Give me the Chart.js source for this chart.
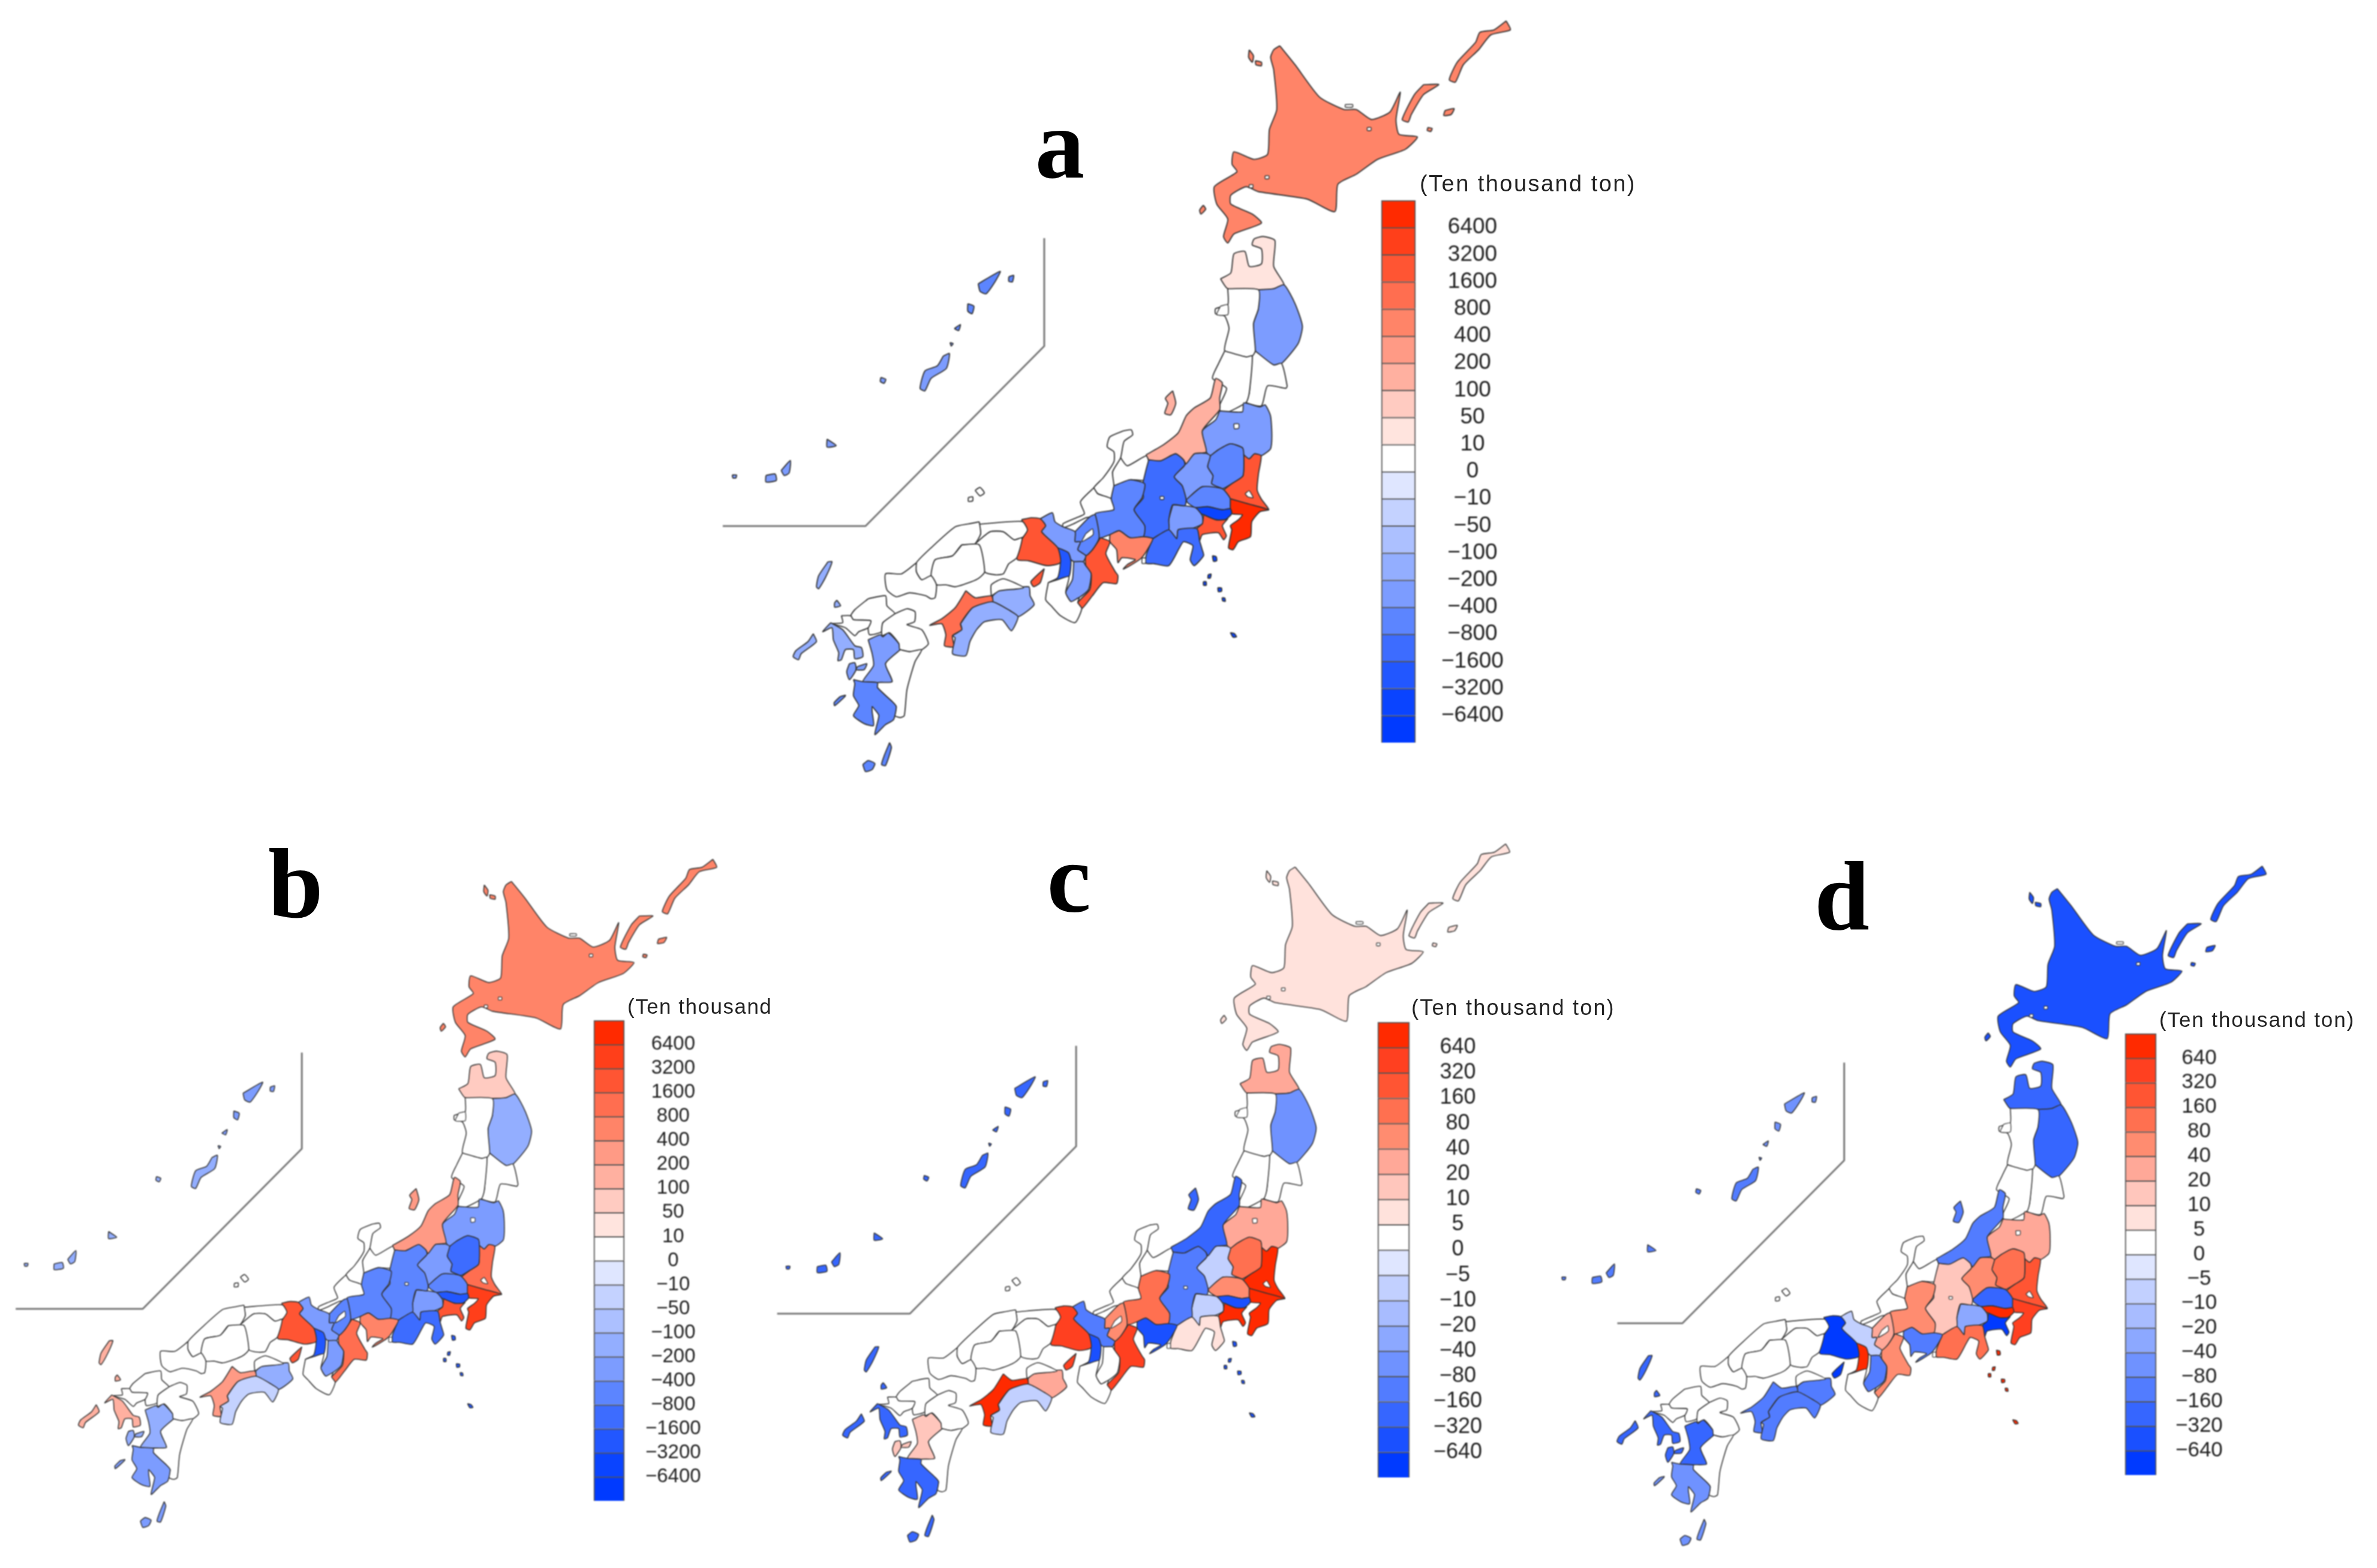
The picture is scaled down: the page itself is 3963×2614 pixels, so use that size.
<!DOCTYPE html>
<html><head><meta charset="utf-8">
<script src="https://cdn.jsdelivr.net/npm/chart.js@4"></script>
<style>
html,body{margin:0;padding:0;background:#fff;width:3963px;height:2614px;overflow:hidden}
canvas{position:absolute;filter:blur(0.8px)}
.letter{position:absolute;font-family:"Liberation Serif",serif;font-weight:bold;color:#000;line-height:1;transform:translate(-50%,-50%)}
.unit{position:absolute;font-family:"Liberation Sans",sans-serif;color:#222;white-space:nowrap;line-height:1;transform:translateY(-50%)}
</style></head><body>
<canvas id="maps" width="3963" height="2614" style="left:0;top:0"></canvas>
<script>
// ---------- DATA ----------
const prefectures=["Hokkaido","Aomori","Iwate","Miyagi","Akita","Yamagata","Fukushima","Ibaraki","Tochigi","Gunma","Saitama","Chiba","Tokyo","Kanagawa","Niigata","Toyama","Ishikawa","Fukui","Yamanashi","Nagano","Gifu","Shizuoka","Aichi","Mie","Shiga","Kyoto","Osaka","Hyogo","Nara","Wakayama","Tottori","Shimane","Okayama","Hiroshima","Yamaguchi","Tokushima","Kagawa","Ehime","Kochi","Fukuoka","Saga","Nagasaki","Kumamoto","Oita","Miyazaki","Kagoshima","Okinawa"];
const valuesA=[500,30,-300,5,5,5,-300,2000,-600,-300,-600,7000,-4000,2000,150,5,5,5,-300,-1000,-600,-1000,500,2000,-600,-300,-2000,2000,-300,5,5,5,5,5,5,-150,5,1000,-150,5,5,-150,-300,5,5,-600,-300];
const valuesB=[500,70,-150,5,5,5,-300,1000,-1000,-300,-600,4000,-2000,2000,300,5,5,5,-300,-600,-600,-1000,500,1000,-600,-300,-2000,2000,-300,5,5,5,5,5,5,-150,5,300,-30,5,5,150,-150,5,5,-300,-150];
const valuesC=[7,30,-60,2,2,2,30,800,120,-7,60,800,-500,800,-250,2,2,2,-7,-100,100,7,-500,400,60,-100,-400,400,2,2,2,2,2,2,2,30,2,800,-7,2,2,-300,15,2,2,-250,-300];
const valuesD=[-400,-250,-250,2,2,2,30,200,100,50,-250,400,800,-800,-100,2,2,2,-30,15,50,100,-100,50,30,-7,800,-800,-100,2,2,2,2,2,2,-120,2,-120,-120,2,2,-250,-250,2,2,-60,-120];
const thresholdsAB=[6400,3200,1600,800,400,200,100,50,10,0,-10,-50,-100,-200,-400,-800,-1600,-3200,-6400];
const thresholdsCD=[640,320,160,80,40,20,10,5,0,-5,-10,-20,-40,-80,-160,-320,-640];
const coloursAB=["#ff2a00","#ff3f1a","#ff5533","#ff6e50","#ff8468","#ff9a85","#ffb0a0","#ffcbc1","#ffe4de","#ffffff","#dfe6ff","#c4d2ff","#acc0ff","#93aeff","#7c9cff","#5c85ff","#3d6cff","#2257ff","#0a44ff","#003aff"];
const coloursCD=["#ff2a00","#ff4020","#ff5533","#ff7050","#ff8c70","#ffa898","#ffc6bc","#ffe2dc","#ffffff","#dfe6ff","#c2d0ff","#a8bcff","#8ca8ff","#6f92ff","#527cff","#3666ff","#1a50ff","#003aff"];

// Outline geometry; each part = [tracing sheet, flat x,y list]
const sheets={1:[1.02,.83,1180,0],2:[.4464,.333,1500,650],3:[.4464,.333,1280,850]};
const outlines={
Hokkaido:[[1,[935,92,925,100,920,115,925,140,930,220,918,260,915,310,893,320,860,305,857,330,865,345,828,375,832,410,850,440,843,475,850,488,860,470,905,448,890,430,855,410,855,392,880,375,900,385,980,400,1025,425,1030,370,1060,350,1095,320,1140,300,1160,275,1130,270,1125,240,1132,185,1115,225,1085,240,1060,220,1040,220,1000,195,960,130]],
 [1,[885,100,892,112,890,125,884,115]],[1,[895,122,905,125,905,132,896,130]],[1,[810,412,814,420,806,430,804,422]],
 [1,[1305,42,1312,60,1280,70,1260,100,1235,130,1222,165,1212,160,1225,125,1255,85,1262,65,1285,60]],
 [1,[1170,170,1195,170,1170,190,1150,230,1145,245,1135,240,1155,190]],[1,[1205,222,1220,218,1215,230,1203,232]],[1,[1177,256,1184,258,1182,264,1176,262]]],
Aomori:[[1,[838,560,855,548,860,510,878,505,885,535,905,530,905,500,890,492,893,480,908,475,927,483,925,535,942,572,925,580,900,582,850,580]]],
Iwate:[[1,[900,582,925,580,942,572,960,610,972,655,965,690,938,730,925,733,895,705,892,650,900,620]]],
Miyagi:[[1,[895,705,925,733,938,730,947,775,945,780,915,775,905,815,880,808,885,790,890,715]]],
Akita:[[1,[850,580,900,582,900,620,892,650,895,705,890,715,880,717,845,705,852,660,845,635,830,630,830,620,850,612]]],
Yamagata:[[1,[845,705,880,717,890,715,885,790,880,808,845,830,835,820,848,780,825,760,835,730]]],
Fukushima:[[2,[1195,105,1280,110,1285,65,1345,85,1365,75,1385,130,1390,230,1385,295,1350,330,1325,320,1305,345,1285,325,1280,290,1235,270,1190,300,1160,330,1145,310,1130,205,1180,150]]],
Ibaraki:[[2,[1285,325,1305,345,1325,320,1350,330,1340,420,1335,500,1350,545,1378,600,1300,570,1235,545,1210,505,1245,465,1282,430]]],
Tochigi:[[2,[1160,330,1190,300,1235,270,1280,290,1285,325,1282,430,1245,465,1205,495,1165,470,1170,430,1150,385]]],
Gunma:[[2,[1065,375,1100,320,1145,318,1160,330,1150,385,1170,430,1165,470,1205,495,1130,485,1095,520,1070,550,1055,480,1025,435,1060,385]]],
Saitama:[[2,[1070,550,1130,485,1205,495,1235,545,1235,595,1205,600,1150,585,1105,590,1075,565]]],
Chiba:[[2,[1235,545,1300,570,1378,600,1345,610,1315,660,1310,735,1265,760,1245,800,1228,790,1240,700,1235,680,1265,650,1280,625,1240,620,1235,595]]],
Tokyo:[[2,[1105,590,1150,585,1205,600,1235,595,1240,620,1215,650,1180,650,1135,625,1115,615]],
 [2,[1168,830,1182,835,1184,855,1172,858]],[2,[1152,925,1163,922,1160,942,1151,942]],[2,[1134,960,1144,960,1145,978,1135,978]],[2,[1188,990,1202,992,1202,1008,1190,1010]],[2,[1204,1040,1214,1042,1216,1058,1206,1056]],[2,[1235,1215,1250,1220,1258,1236,1245,1238]]],
Kanagawa:[[2,[1135,625,1180,650,1215,650,1225,645,1205,680,1220,730,1210,750,1190,715,1130,725,1120,755,1110,695,1130,670]]],
Niigata:[[2,[920,325,985,275,1040,215,1070,130,1100,90,1160,40,1180,-57,1205,-35,1195,40,1195,100,1130,205,1145,310,1100,320,1070,370,1060,350,1030,320,975,355,930,350]],
 [1,[760,785,765,810,757,833,747,830,752,810,748,800]]],
Toyama:[[2,[825,340,850,380,920,330,930,360,920,450,860,450,800,480,795,410]]],
Ishikawa:[[2,[835,205,865,200,870,225,838,258,825,340,795,410,800,480,790,545,740,520,725,490,760,440,800,360,800,310,775,285,785,235]]],
Fukui:[[2,[725,490,740,520,790,545,800,600,735,620,720,635,695,640,650,670,610,690,610,670,660,640,690,620,675,560]]],
Yamanashi:[[2,[1020,575,1065,580,1105,590,1130,630,1130,670,1090,695,1040,700,1035,745,1005,700,1005,650]]],
Nagano:[[2,[930,350,975,355,1030,320,1060,350,1065,375,1025,435,1055,480,1070,550,1065,580,1020,575,1005,650,1005,700,960,745,910,735,915,680,875,600,910,540,905,490,920,400]]],
Gifu:[[2,[800,480,860,450,915,470,905,540,875,600,915,680,910,735,860,740,820,705,785,725,745,740,730,620,800,600,790,545]]],
Shizuoka:[[2,[945,745,1005,700,1035,745,1040,700,1110,695,1120,755,1130,800,1135,830,1100,880,1085,850,1095,780,1060,760,1045,790,1005,880,950,870,920,868,920,830]]],
Aichi:[[2,[785,725,820,705,860,740,910,735,945,745,925,800,900,845,860,880,835,897,850,875,880,850,830,840,815,865,810,800,785,760]]],
Mie:[[2,[750,740,785,760,770,820,805,910,815,930,810,970,760,965,720,1030,680,1095,665,1065,710,1000,715,920,695,880,695,830,720,800]]],
Shiga:[[2,[655,710,710,635,730,625,745,740,720,800,695,830,665,800,675,760,655,760]]],
Kyoto:[[2,[525,645,570,615,580,660,610,685,655,710,655,760,675,760,665,800,695,830,685,860,650,860,590,790,530,710,545,680]]],
Osaka:[[2,[590,790,630,815,640,860,632,935,590,950,555,965,590,940,600,865]]],
Hyogo:[[2,[455,650,490,640,525,645,545,680,530,710,590,790,600,865,550,880,480,855,440,850,435,790,460,740,475,700]],[2,[540,895,525,965,500,985,490,960]]],
Nara:[[2,[650,860,685,860,695,880,715,920,705,1000,670,1040,640,1060,620,1015,645,950]]],
Wakayama:[[2,[555,965,590,950,632,935,620,1015,640,1060,670,1040,665,1065,680,1095,655,1165,600,1130,565,1080,545,1050]]],
Tottori:[[3,[790,72,950,58,970,100,950,140,920,150,880,110,830,110,770,175,795,120]]],
Shimane:[[3,[790,60,795,120,770,175,725,175,690,230,625,250,610,330,575,350,555,310,555,265,610,190,700,85,750,70]],[1,[437,985,445,979,452,990,445,996]],[1,[426,999,433,998,433,1006,426,1007]]],
Okayama:[[3,[770,175,830,110,880,110,920,150,950,140,930,240,900,270,880,320,850,325,810,310,790,175]]],
Hiroshima:[[3,[725,175,790,175,810,310,790,340,760,360,700,385,665,375,630,375,610,330,625,250,690,230]]],
Yamaguchi:[[3,[555,265,555,310,575,350,610,330,630,375,625,440,610,445,590,430,530,415,480,435,445,400,440,320,500,320]]],
Tokushima:[[3,[840,430,862,405,975,385,980,430,995,475,935,535,905,505,840,460]]],
Kagawa:[[3,[835,430,835,375,880,345,955,390,865,405,842,425]]],
Ehime:[[3,[740,405,775,440,835,430,840,460,765,490,720,570,725,600,690,630,695,685,660,680,665,625,650,570,605,578,650,545,700,490]]],
Kochi:[[3,[720,570,765,490,840,460,905,505,935,535,910,605,875,550,810,560,780,600,755,660,740,730,690,720,700,640,690,630,725,600]]],
Fukuoka:[[3,[375,445,440,430,445,480,475,520,430,565,425,610,380,625,375,590,385,555,320,550,310,530,325,500]]],
Saga:[[3,[275,530,310,530,320,550,385,555,375,590,340,610,325,630,290,590,240,570,280,565]]],
Nagasaki:[[3,[235,565,280,600,325,680,350,690,355,735,325,745,320,700,290,700,275,750,262,755,265,715,245,650,240,590,205,610]],
 [3,[225,260,240,260,215,340,190,395,182,385,190,330]],[3,[258,452,272,480,250,487,250,465]],[3,[170,620,182,660,125,720,115,750,95,735,105,705,150,660]]],
Kumamoto:[[3,[375,650,420,625,430,635,450,615,490,670,495,700,440,770,465,860,410,865,355,860,395,780,390,720]],[3,[305,770,325,765,330,800,305,850,295,810]],[3,[335,785,370,770,360,800,330,800]]],
Oita:[[3,[475,520,520,495,550,510,548,560,520,575,575,600,600,670,575,700,530,710,493,698,490,670,455,615,428,630,425,610,430,565]]],
Miyazaki:[[3,[495,700,530,710,575,700,550,760,520,900,510,1030,495,1040,475,1030,480,985,465,960,410,890,410,865,465,860,440,770]]],
Kagoshima:[[3,[320,850,355,860,410,865,410,890,465,960,480,985,470,1050,440,1075,400,1125,415,1030,400,1000,390,985,390,1010,395,1080,360,1070,320,1030,340,980,320,930,325,870]],
 [3,[355,1275,375,1255,400,1270,390,1300,365,1310]],[3,[455,1165,462,1190,440,1280,425,1275,435,1230]],[3,[270,935,290,928,288,935,250,980,248,965]],
 [1,[442,570,478,545,470,565,455,590,445,585]],[1,[492,556,500,553,498,566,492,565]],[1,[425,610,435,615,432,630,425,625]],[1,[403,660,413,652,410,664]]],
Okinawa:[[1,[385,715,395,710,390,740,365,760,355,785,347,780,355,745,375,735]],[1,[283,758,291,762,288,770,282,766]],[1,[195,882,210,895,195,898]],[1,[95,955,110,952,112,965,95,968]],[1,[120,945,135,925,133,950,125,955]],[1,[40,954,47,954,46,960,41,960]],[1,[396,688,401,690,398,695]]]
};
const lakes=[[2,[1248,170,1266,170,1266,192,1250,194]],[2,[695,720,720,695,722,725,680,760]],[2,[1290,520,1305,505,1320,540,1300,535]],[1,[838,615,850,612,850,632,832,632]],[2,[972,534,986,534,986,548,973,548]],[2,[905,842,918,842,918,868,905,868]],[1,[1042,210,1054,210,1054,215,1042,215]],[1,[1078,256,1084,256,1084,262,1078,262]],[1,[911,353,917,353,917,359,911,359]],[1,[885,371,891,371,891,377,885,377]]];
const insetStartX={a:1205,b:1205,c:1205,d:1323};
const insetCorners=[[1443,877],[1741,577],[1741,397]];
const panels={
 a:{values:valuesA,thresholds:thresholdsAB,colours:coloursAB,scale:1,ax:1443,ay:877,lw:1.9},
 b:{values:valuesB,thresholds:thresholdsAB,colours:coloursAB,scale:.89,ax:238,ay:2182,lw:1.6},
 c:{values:valuesC,thresholds:thresholdsCD,colours:coloursCD,scale:.93,ax:1517,ay:2190,lw:1.6},
 d:{values:valuesD,thresholds:thresholdsCD,colours:coloursCD,scale:.905,ax:2805,ay:2206,lw:1.6}
};
const letters=[["a",1767,240],["b",493,1473],["c",1782,1463],["d",3071,1494]];
const bars=[
 {id:"a",thresholds:thresholdsAB,colours:coloursAB,x:2303,y:334,w:57,h:904,font:37,pad:35,title:"(Ten thousand ton)",tx:2367,ty:306,tf:38,ls:2.45},
 {id:"b",thresholds:thresholdsAB,colours:coloursAB,x:990,y:1701,w:51,h:801,font:33,pad:27,title:"(Ten thousand",tx:1046,ty:1677,tf:35,ls:1.5},
 {id:"c",thresholds:thresholdsCD,colours:coloursCD,x:2297,y:1704,w:53,h:759,font:36,pad:32,title:"(Ten thousand ton)",tx:2353,ty:1680,tf:36,ls:2.2},
 {id:"d",thresholds:thresholdsCD,colours:coloursCD,x:3543,y:1723,w:52,h:736,font:35,pad:24,title:"(Ten thousand ton)",tx:3600,ty:1699,tf:35,ls:1.9}
];
// ---------- MAPS ----------
function classOf(v,th){for(let i=0;i<th.length;i++){if(v>=th[i])return i;}return th.length;}
function toSheet(sheet,flat,p){const s=sheets[sheet],pts=[];for(let i=0;i<flat.length;i+=2){
  const X=s[2]+flat[i]*s[0],Y=s[3]+flat[i+1]*s[1];
  pts.push({x:p.ax+(X-1443)*p.scale,y:p.ay+(Y-877)*p.scale});}
  pts.push(pts[0]);return pts;}
const datasets=[];
function addPoly(data,fill,lw){datasets.push({data,showLine:true,fill:fill?"shape":false,backgroundColor:fill||"transparent",borderColor:fill?"#333":"#777",borderWidth:lw,pointRadius:0,tension:fill?0.2:0,order:-datasets.length,borderJoinStyle:"round"});}
for(const key of Object.keys(panels)){const p=panels[key];
  prefectures.forEach((name,i)=>{const col=p.colours[classOf(p.values[i],p.thresholds)];
    outlines[name].forEach(([sh,flat])=>addPoly(toSheet(sh,flat,p),col,p.lw));});
  lakes.forEach(([sh,flat])=>addPoly(toSheet(sh,flat,p),"#ffffff",p.lw*.8));
  const line=[[insetStartX[key],877],...insetCorners].map(([X,Y])=>({x:p.ax+(X-1443)*p.scale,y:p.ay+(Y-877)*p.scale}));
  addPoly(line,null,3);
}
new Chart(document.getElementById("maps"),{type:"scatter",data:{datasets},options:{responsive:false,animation:false,devicePixelRatio:1,layout:{padding:0},
 plugins:{legend:{display:false},tooltip:{enabled:false}},
 scales:{x:{type:"linear",min:0,max:3963,display:false},y:{type:"linear",min:0,max:2614,reverse:true,display:false}}}});
// ---------- COLOUR BARS ----------
bars.forEach(b=>{const c=document.createElement("canvas"),W=320,N=b.colours.length;
 c.width=W;c.height=b.h+12;c.style.left=(b.x-3)+"px";c.style.top=(b.y-6)+"px";document.body.appendChild(c);
 const ds=[];for(let j=0;j<N;j++){ds.push({label:String(j),data:[1],backgroundColor:b.colours[N-1-j],borderColor:"#555",borderWidth:2,barPercentage:1,categoryPercentage:1,stack:"s",clip:false});}
 new Chart(c,{type:"bar",data:{labels:[""],datasets:ds},options:{responsive:false,animation:false,devicePixelRatio:1,layout:{padding:{left:3,top:6,bottom:6,right:0}},
  plugins:{legend:{display:false},tooltip:{enabled:false}},
  scales:{x:{display:false,stacked:true},
   y:{position:"right",stacked:true,min:0,max:N,border:{display:false},grid:{display:false},
    afterFit(s){s.width=W-3-b.w;s.paddingTop=0;s.paddingBottom=0;},afterBuildTicks(s){s.ticks=[];for(let p=0;p<=N;p++)s.ticks.push({value:p});},
    ticks:{autoSkip:false,crossAlign:"center",padding:b.pad,color:"#222",font:{family:"'Liberation Sans'",size:b.font},
     callback:(v)=>{const t=b.thresholds[N-1-v];return t===undefined?"":String(t).replace("-","\u2212");}}}}}});
 const d=document.createElement("div");d.className="unit";d.textContent=b.title;d.style.cssText=`left:${b.tx}px;top:${b.ty}px;font-size:${b.tf}px;letter-spacing:${b.ls}px`;document.body.appendChild(d);
});
letters.forEach(([t,x,y])=>{const d=document.createElement("div");d.className="letter";d.textContent=t;d.style.cssText=`left:${x}px;top:${y}px;font-size:165px`;document.body.appendChild(d);});
</script>
</body></html>
